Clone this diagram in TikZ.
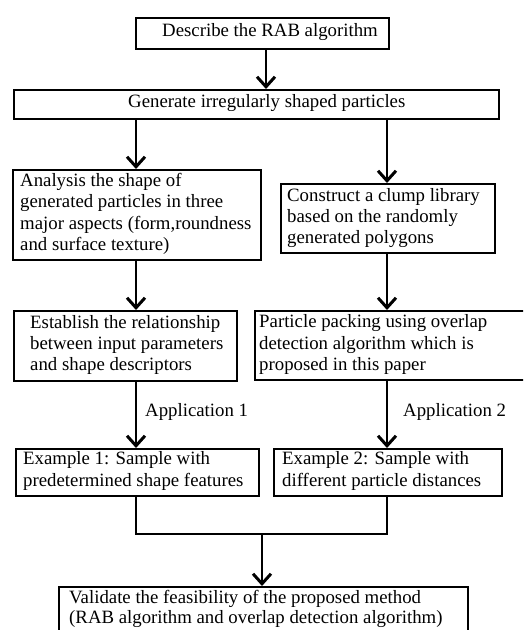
\documentclass[tikz,border=0pt]{standalone}
\usepackage{fontspec}
\setmainfont{Liberation Serif}
\usetikzlibrary{arrows.meta}
\begin{document}
\begin{tikzpicture}[x=1pt,y=-1pt,
  box/.style={draw, line width=2pt, inner sep=0pt, anchor=north west},
  txt/.style={anchor=west, align=left, inner sep=0pt, font=\fontsize{18.8}{21.3}\selectfont},
  arr/.style={line width=1.4pt, -{Straight Barb[length=10pt,width=18pt,line width=3pt]}},
  ln/.style={line width=1.4pt}]
\useasboundingbox (0,0) rectangle (523,630);
\clip (0,0) rectangle (523,630);
\fill[white] (0,0) rectangle (523,630);
% boxes
\node[box, minimum width=253pt, minimum height=31pt] (b1) at (135,17) {};
\node[box, minimum width=485pt, minimum height=29pt] (b2) at (13,89) {};
\node[box, minimum width=248pt, minimum height=90pt] (b3) at (12,169) {};
\node[box, minimum width=214pt, minimum height=69pt] (b4) at (280,183) {};
\node[box, minimum width=223pt, minimum height=70pt] (b5) at (13,310) {};
\node[box, minimum width=290pt, minimum height=69pt] (b6) at (254,310) {};
\node[box, minimum width=243pt, minimum height=47pt] (b7) at (15,448) {};
\node[box, minimum width=228pt, minimum height=47pt] (b8) at (273,448) {};
\node[box, minimum width=409pt, minimum height=80pt] (b9) at (58,586) {};
% texts
\node[txt] (t1) at (162,32.5) {Describe the RAB algorithm};
\node[txt] (t2) at (128,103.5) {Generate irregularly shaped particles};
\node[txt] (t3) at (20,214) {Analysis the shape of\\generated particles in three\\major aspects (form,roundness\\and surface texture)};
\node[txt] (t4) at (287,218) {Construct a clump library\\based on the randomly\\generated polygons};
\node[txt] (t5) at (30,345) {Establish the relationship\\between input parameters\\and shape descriptors};
\node[txt] (t6) at (259,344.5) {Particle packing using overlap\\detection algorithm which is\\proposed in this paper};
\node[txt] (t7) at (23,471) {Example 1: Sample with\\predetermined shape features};
\node[txt] (t8) at (282,471) {Example 2: Sample with\\different particle distances};
\node[txt, font=\fontsize{18.8}{20.5}\selectfont] (t9) at (69,609) {Validate the feasibility of the proposed method\\(RAB algorithm and overlap detection algorithm)};
\node[txt] (a1) at (145,412) {Application 1};
\node[txt] (a2) at (403,412) {Application 2};
% connectors
\coordinate (cL) at (136,0);
\coordinate (cR) at (387,0);
\coordinate (cM) at (266,0);
\coordinate (j) at (262,534);
\draw[arr] (b1.south -| cM) -- (b2.north -| cM);
\draw[arr] (b2.south -| cL) -- (b3.north -| cL);
\draw[arr] (b2.south -| cR) -- (b4.north -| cR);
\draw[arr] (b3.south -| cL) -- (b5.north -| cL);
\draw[arr] (b4.south -| cR) -- (b6.north -| cR);
\draw[arr] (b5.south -| cL) -- (b7.north -| cL);
\draw[arr] (b6.south -| cR) -- (b8.north -| cR);
\draw[ln] (b7.south -| cL) |- (j) -| (b8.south -| cR);
\draw[arr] (j) -- (b9.north -| j);
\end{tikzpicture}
\end{document}
